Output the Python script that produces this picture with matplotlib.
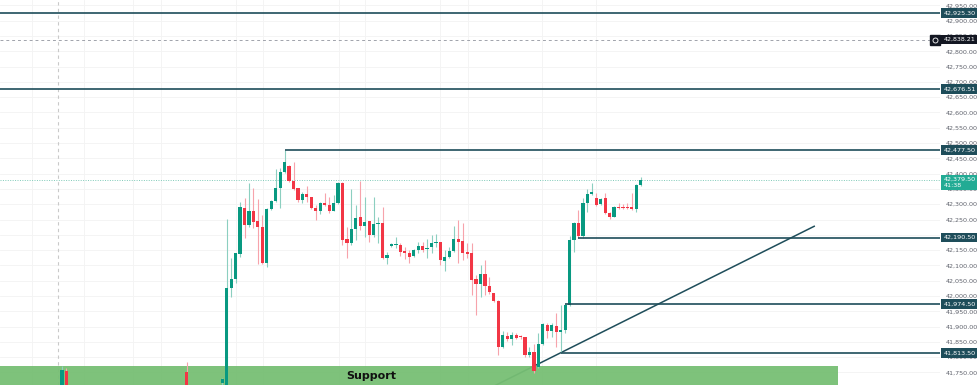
import matplotlib
matplotlib.use("Agg")
import matplotlib.pyplot as plt
from matplotlib.transforms import blended_transform_factory
from matplotlib.patches import Rectangle

# ---------------- data ----------------
idx = [3, 4, 31] + list(range(39, 134))
opens = [41690, 41755, 41752, 41715, 41700,
         42027, 42055, 42137, 42287, 42232, 42279, 42245, 42226, 42107, 42283,
         42311, 42354, 42404, 42425, 42377, 42352, 42314, 42332, 42323, 42287,
         42278, 42305, 42297, 42279, 42303, 42370, 42186, 42174, 42218, 42257,
         42229, 42245, 42199, 42234, 42240, 42123, 42164, 42166, 42167, 42147,
         42141, 42130, 42150, 42163, 42153, 42159, 42174, 42176, 42114, 42128,
         42147, 42186, 42181, 42143, 42139, 42054, 42038, 42072, 42033, 42009,
         41984, 41834, 41870, 41858, 41872, 41867, 41867, 41807, 41818, 41769,
         41843, 41905, 41887, 41903, 41883, 41888, 41970, 42183, 42240, 42197,
         42305, 42332, 42319, 42300, 42319, 42270, 42259, 42290, 42290, 42290,
         42290, 42283, 42363]
highs = [41771, 41764, 41785, 41732, 42251,
         42123, 42141, 42308, 42319, 42368, 42352, 42316, 42265, 42287, 42314,
         42414, 42417, 42477.5, 42428, 42439, 42352, 42341, 42360, 42325, 42297,
         42308, 42336, 42325, 42330, 42374, 42374, 42227, 42349, 42297, 42377,
         42325, 42246, 42325, 42257, 42292, 42145, 42172, 42192, 42172, 42161,
         42150, 42153, 42177, 42177, 42185, 42199, 42202, 42177, 42150, 42161,
         42229, 42248, 42240, 42172, 42172, 42069, 42101, 42118, 42063, 42010,
         41987, 41886, 41883, 41883, 41880, 41872, 41867, 41834, 41843, 41878,
         41911, 41911, 41913, 41945, 41970, 41974.5, 42196, 42243, 42281, 42320,
         42349, 42368, 42338, 42319, 42336, 42276, 42294, 42303, 42300, 42303,
         42338, 42365, 42390]
lows = [41680, 41680, 41680, 41700, 41690,
        41998, 42043, 42128, 42189, 42226, 42221, 42104, 42106, 42096, 42281,
        42308, 42287, 42401, 42374, 42346, 42308, 42303, 42308, 42285, 42248,
        42268, 42294, 42270, 42277, 42301, 42167, 42123, 42167, 42183, 42216,
        42194, 42177, 42194, 42172, 42121, 42105, 42161, 42156, 42131, 42120,
        42107, 42126, 42140, 42145, 42123, 42140, 42161, 42101, 42082, 42123,
        42145, 42107, 42118, 42123, 42003, 41938, 41998, 42003, 42006, 41981,
        41807, 41829, 41854, 41840, 41858, 41858, 41801, 41801, 41749, 41763,
        41840, 41862, 41867, 41834, 41813.5, 41878, 41967, 42145, 42190.5, 42190.5,
        42276, 42330, 42294, 42297, 42268, 42251, 42257, 42283, 42283, 42283,
        42281, 42276, 42360]
closes = [41758, 41690, 41690, 41728, 42025,
          42055, 42140, 42292, 42232, 42279, 42243, 42224, 42109, 42283, 42311,
          42354, 42404, 42439, 42376, 42349, 42314, 42332, 42323, 42287, 42278,
          42303, 42297, 42278, 42303, 42370, 42183, 42174, 42218, 42256, 42229,
          42243, 42199, 42234, 42240, 42123, 42134, 42169, 42170, 42145, 42140,
          42128, 42150, 42163, 42150, 42156, 42174, 42176, 42118, 42128, 42148,
          42186, 42177, 42142, 42138, 42051, 42038, 42072, 42033, 42014, 41984,
          41834, 41872, 41858, 41872, 41864, 41865, 41807, 41818, 41756, 41843,
          41908, 41886, 41905, 41883, 41888, 41970, 42183, 42240, 42197, 42305,
          42332, 42341, 42297, 42316, 42270, 42259, 42292, 42287, 42287, 42287,
          42283, 42363, 42379.5]

# key levels: (price, start index or None for full width)
level_prices = [42925.30, 42676.51, 42477.50, 42190.50, 41974.50, 41813.50]
level_starts = [None, None, 53, 119, 116, 115]
dashed_level = 42838.21
last_price = 42379.50
last_timer = "41:38"
support_top = 41771
support_end_idx = 177.3
support_label = "Support"
trend_idx = [114.9, 172.1]
trend_price = [41813.5, 42229.0]
session_idx = 2.1
grid_idx = [-3.8, 8.0, 19.0, 25.2, 42.0, 48.2, 65.3, 71.1, 87.9, 94.3, 110.9, 122.9]
yticks = list(range(41750, 42951, 50))

# ---------------- figure ----------------
W, H = 977, 385
fig = plt.figure(figsize=(W / 100, H / 100), dpi=100)
fig.patch.set_facecolor("white")
ax = fig.add_axes([0, 0, 940 / W, 1])
ax.set_facecolor("white")
ymin, ymax = 41708.9, 42967.8
xmin, xmax = -10.92, 200.2
ax.set_xlim(xmin, xmax)
ax.set_ylim(ymin, ymax)
for s in ax.spines.values():
    s.set_visible(False)
ax.set_xticks([])
ax.yaxis.tick_right()
ax.set_yticks(yticks)
ax.set_yticklabels([f"{v:,.2f}" for v in yticks])
ax.tick_params(axis="y", length=0, pad=4, labelsize=4.6, colors="#5f626c")

# grid
for y in yticks:
    ax.axhline(y, color="#f3f3f3", lw=0.6, zorder=0)
for gx in grid_idx:
    ax.axvline(gx, color="#f3f3f3", lw=0.6, zorder=0)
ax.axvline(session_idx, color="#c9c9c9", lw=0.8, ls=(0, (3, 3)), zorder=0.5)

# trend line (extended to bottom)
slope = (trend_price[1] - trend_price[0]) / (trend_idx[1] - trend_idx[0])
x_start = trend_idx[0] + (ymin - 5 - trend_price[0]) / slope
ax.plot([x_start, trend_idx[1]], [ymin - 5, trend_price[1]],
        color="#1e4d5a", lw=1.1, zorder=0.8, solid_capstyle="butt")

# support zone
ax.add_patch(Rectangle((xmin, ymin - 50), support_end_idx - xmin, support_top - ymin + 50,
                       facecolor="#77bf74", edgecolor="none", alpha=0.95, zorder=1))
ax.text(72.4, (support_top + ymin) / 2, support_label, ha="center", va="center",
        fontsize=8, fontweight="semibold", color="#111111", zorder=3,
        family="DejaVu Sans")

# candles
up_c, dn_c = "#089981", "#f23645"
up_w, dn_w = "#8ccfc0", "#f7a3ab"
for i, o, h, l, c in zip(idx, opens, highs, lows, closes):
    up = c >= o
    ax.vlines(i, l, h, color=up_w if up else dn_w, lw=0.8, zorder=2)
    lo, hi = min(o, c), max(o, c)
    ax.bar(i, max(hi - lo, 3), bottom=lo, width=0.72,
           color=up_c if up else dn_c, zorder=2.5, linewidth=0)

# level lines
lvl_col = "#1e4d5a"
for p, st in zip(level_prices, level_starts):
    x0 = xmin if st is None else st
    ax.plot([x0, xmax], [p, p], color=lvl_col, lw=1.2, zorder=3,
            solid_capstyle="butt", clip_on=False)
    if st is not None:
        pass

ax.axhline(dashed_level, color="#a0a3ab", lw=0.7, ls=(0, (3, 3)), zorder=1)
ax.axhline(last_price, color="#7fcab8", lw=0.7, ls=(0, (1, 1.5)), zorder=1.5)

# labels on price axis
tr = blended_transform_factory(ax.transAxes, ax.transData)
xlab = 1.0035
for p in level_prices:
    ax.text(xlab, p, f"{p:,.2f}", transform=tr, ha="left", va="center",
            fontsize=4.6, color="white", zorder=10, clip_on=False,
            bbox=dict(boxstyle="square,pad=0.35", fc=lvl_col, ec="none"))
ax.text(xlab, dashed_level, f"{dashed_level:,.2f}", transform=tr, ha="left",
        va="center", fontsize=4.6, color="white", zorder=10, clip_on=False,
        bbox=dict(boxstyle="square,pad=0.35", fc="#131722", ec="none"))
ax.plot([0.9945], [dashed_level], marker="s", ms=7, color="#131722",
        transform=tr, clip_on=False, zorder=10)
ax.plot([0.9945], [dashed_level], marker="o", ms=3.6, mfc="none", mec="white",
        mew=0.6, transform=tr, clip_on=False, zorder=11)
ax.text(xlab, last_price - 8, f"{last_price:,.2f}\n{last_timer}", transform=tr,
        ha="left", va="center", fontsize=4.6, color="white", zorder=10,
        clip_on=False, linespacing=1.3,
        bbox=dict(boxstyle="square,pad=0.35", fc="#22ab94", ec="none"))

fig.savefig("out.png", dpi=100, facecolor="white")
